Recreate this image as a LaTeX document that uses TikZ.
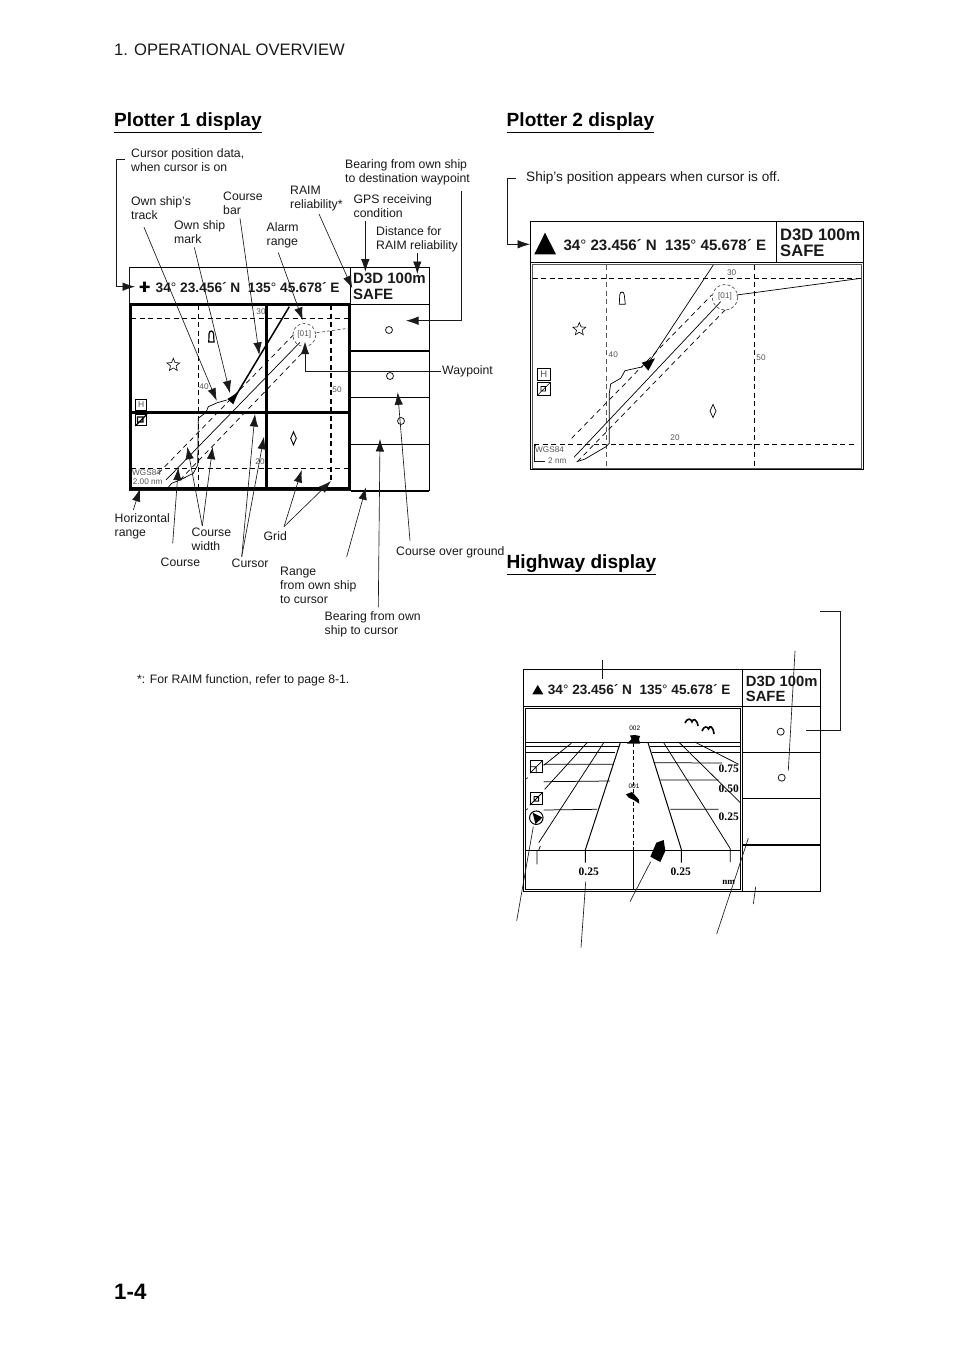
\documentclass[tikz,border=0pt]{standalone}
\usepackage{fontspec}
\setmainfont{Liberation Sans}
\newfontfamily\roadfont{Liberation Serif}
\usetikzlibrary{arrows.meta,shapes.geometric}
\definecolor{ink}{HTML}{1A1A1A}
\definecolor{soft}{HTML}{555555}
\newcommand{\posn}{34{\mdseries°} 23.456´ N\ \ 135{\mdseries°} 45.678´ E}
\tikzset{
 lbl/.style={anchor=west,inner sep=0pt,align=left,text=ink,font=\fontsize{12.25}{13.8}\selectfont},
 head/.style={anchor=west,inner sep=0pt,text=black,font=\fontsize{19.1}{23}\selectfont\bfseries},
 tinytxt/.style={inner sep=0pt,text=soft,font=\fontsize{8.2}{9}\selectfont},
 roadtxt/.style={inner sep=0pt,text=black,font=\fontsize{11.5}{12}\selectfont\bfseries\roadfont},
 posnfont/.style={anchor=west,inner sep=0pt,text=ink,font=\fontsize{#1}{#1}\selectfont\bfseries},
 framed/.style={draw=black,line width=1pt},
 thickbar/.style={draw=black,line width=2.6pt},
 call/.style={draw=ink,line width=.65pt,-{Latex[length=12.5pt,width=8.5pt]}},
 plainline/.style={draw=ink,line width=.65pt},
 gridline/.style={draw=black,line width=.8pt,dash pattern=on 5pt off 3.5pt},
 gridheavy/.style={draw=black,line width=1.5pt,dash pattern=on 5pt off 3.5pt},
 gridsoft/.style={draw=soft,line width=.9pt,dash pattern=on 5pt off 3.5pt},
 courseline/.style={draw=black,line width=.7pt},
 widthline/.style={draw=black,line width=.7pt,dash pattern=on 5pt off 4pt},
 alarmline/.style={draw=soft,line width=.7pt,dash pattern=on 3pt off 2.2pt},
 symb/.style={draw=black,line width=.7pt,fill=white},
 starsym/.style={star,star points=5,star point ratio=2.3,draw=black,line width=.6pt,inner sep=0pt,minimum size=13.5pt},
 wp/.style={circle,draw=ink,line width=.8pt,inner sep=0pt,minimum size=7pt},
 grline/.style={draw=black,line width=.75pt},
}
\begin{document}
\begin{tikzpicture}[x=1pt,y=-1pt]
\useasboundingbox (0,0) rectangle (954,1351);
\fill[white] (0,0) rectangle (954,1351);

% page furniture
\node[lbl,font=\fontsize{16.6}{20}\selectfont] (chapter) at (114,50) {1. OPERATIONAL OVERVIEW};
\node[head] (title1) at (114,123) {\underline{Plotter 1 display}};
\node[head] (title2) at (506.5,123) {\underline{Plotter 2 display}};
\node[head] (title3) at (506.5,565) {\underline{Highway display}};
\node[head,font=\fontsize{22.3}{26}\selectfont\bfseries] (pageno) at (114,1292) {1-4};
\node[lbl] (footnote) at (137,680) {*: For RAIM function, refer to page 8-1.};

% ---------- Plotter 1 ----------
\draw[framed] (129.3,267.3) rectangle (429.3,304.3);
\draw[framed] (350.7,267.3) -- (350.7,490.7);
\draw[framed] (429.3,304.3) -- (429.3,490.7);
\draw[plainline,line width=.9pt] (129.3,267.3) -- (129.3,490.7) -- (350,490.7);
\draw[thickbar,line width=1.6pt] (350.7,490.7) -- (429.3,490.7);
\draw[thickbar,line width=1.6pt] (350.7,350.7) -- (429.3,350.7);
\draw[framed] (350.7,397.3) -- (429.3,397.3);
\draw[framed] (350.7,444.3) -- (429.3,444.3);
\node[wp] (c1) at (389,330) {};
\node[wp] (c2) at (390,376) {};
\node[wp] (c3) at (401,421) {};
\node[posnfont=13.7] (pos1) at (155.5,287.5) {\posn};
\fill[black] (139.5,285.5) rectangle (149.5,288) (143.2,281.7) rectangle (145.8,291.8);
\node[anchor=north west,inner sep=0pt,align=left,text=ink,font=\fontsize{15}{16}\selectfont\bfseries] (st1) at (353,273) {D3D 100m\\SAFE};

% grid
\draw[gridline] (131,318.3) -- (349,318.3);
\draw[gridline] (131,468.3) -- (349,468.3);
\draw[gridline] (198.3,305) -- (198.3,488);
\draw[gridheavy] (331,305) -- (331,480);
\node[tinytxt] (l30a) at (261,312) {30};
\node[tinytxt] (l40a) at (204,387) {40};
\node[tinytxt] (l50a) at (337,390) {50};
\node[tinytxt] (l20a) at (260,462) {20};

% thick frame
\draw[thickbar] (130.7,304.6) rectangle (349.3,488.5);
\draw[thickbar] (266.7,304.6) -- (266.7,488.5);
\draw[thickbar] (130.7,412.3) -- (349.3,412.3);

% route
\draw[courseline] (166,480) -- (300,342.3);
\draw[widthline] (158.3,473.3) -- (293.3,335);
\draw[widthline] (180,480) -- (303.3,351.7);
\draw[thickbar,line width=1.5pt] (235,397) -- (289.3,306.7);
\draw[courseline] (226.7,400) -- (217.3,402.7) -- (208.3,406.7) -- (206,412.3) -- (198.3,418.3) -- (197.7,465) -- (193.3,473.3) -- (180,480) -- (171.7,483.3) -- (168.3,487.3);
\fill[black] (238.3,392.3) -- (227.3,399) -- (233.3,404.3) -- cycle;
\draw[alarmline] (304.3,335) circle (11.5);
\draw[alarmline] (316.7,332.7) -- (348.3,328.3);
\node[tinytxt,fill=white,inner sep=.3pt] (wp1) at (304.3,334) {[01]};

% symbols
\draw[symb,line width=1.2pt] (208.8,342) -- (209,334) .. controls (209.3,330) and (213.3,330) .. (213.6,334) -- (214,342) -- cycle;
\node[starsym] (s1) at (173.3,365) {};
\draw[symb,line width=.9pt] (293.5,431.8) -- (296.3,438.3) -- (293.5,444.8) -- (290.7,438.3) -- cycle;
\node[draw=black,line width=.7pt,minimum size=11pt,inner sep=0pt,font=\fontsize{8.5}{9}\selectfont,text=soft] (h1) at (141.2,405) {H};
\node[draw=black,line width=.8pt,minimum size=11pt,inner sep=0pt,fill=white] (m1) at (141.2,420) {};
\draw[black,line width=1.2pt] (m1.south west) -- (m1.north east) (137.5,422) rectangle (143,417);
\node[tinytxt,anchor=west] (wgs1) at (132,472.7) {WGS84};
\node[tinytxt,anchor=west] (nm1) at (132.7,482) {2.00 nm};

% plotter 1 labels
\node[lbl] (a1) at (131,160) {Cursor position data,\\when cursor is on};
\node[lbl] (a2) at (345,172.5) {Bearing from own ship\\to destination waypoint};
\node[lbl] (a3) at (131,208.5) {Own ship's\\track};
\node[lbl] (a4) at (223,203) {Course\\bar};
\node[lbl] (a5) at (174,232) {Own ship\\mark};
\node[lbl] (a6) at (290,198.5) {RAIM\\reliability*};
\node[lbl] (a7) at (353.5,206) {GPS receiving\\condition};
\node[lbl] (a8) at (266.5,235.5) {Alarm\\range};
\node[lbl] (a9) at (376,239) {Distance for\\RAIM reliability};
\node[lbl] (a10) at (442,371) {Waypoint};
\node[lbl] (a11) at (114.5,526.5) {Horizontal\\range};
\node[lbl] (a12) at (191.5,539) {Course\\width};
\node[lbl] (a13) at (263.5,536) {Grid};
\node[lbl] (a14) at (160.5,562) {Course};
\node[lbl] (a15) at (231.5,563) {Cursor};
\node[lbl] (a16) at (280,585.5) {Range\\from own ship\\to cursor};
\node[lbl] (a17) at (324.5,624) {Bearing from own\\ship to cursor};
\node[lbl] (a18) at (396,552.5) {Course over ground};

% plotter 1 connector ends
\path (125,159.3) coordinate (b1a) (116.7,159.3) coordinate (b1b) (116.7,286.7) coordinate (b1c) (135,286.7) coordinate (b1d);
\path (144,227.3) coordinate (b2a) (216.7,400.7) coordinate (b2b);
\path (194.3,247.3) coordinate (b3a) (230,393.3) coordinate (b3b);
\path (240,218.3) coordinate (b4a) (259.3,355) coordinate (b4b);
\path (319,214) coordinate (b5a) (352.3,288.3) coordinate (b5b);
\path (278.3,252.7) coordinate (b6a) (302.7,320) coordinate (b6b);
\path (365.3,221) coordinate (b7a) (365.3,271.7) coordinate (b7b);
\path (417.3,253.3) coordinate (b8a) (417.3,274) coordinate (b8b);
\path (461.7,190.7) coordinate (b9a) (461.7,320.7) coordinate (b9b) (406,320.7) coordinate (b9c);
\path (440.7,371.7) coordinate (b10a) (305,371.7) coordinate (b10b) (305,341.7) coordinate (b10c);
\path (133.3,510) coordinate (b11a) (140,489) coordinate (b11b);
\path (172.7,543.3) coordinate (b12a) (178.3,467.7) coordinate (b12b);
\path (202.3,526) coordinate (b13a) (187.3,446.7) coordinate (b13b) (212.7,446.7) coordinate (b13c);
\path (241.7,556.7) coordinate (b14a) (255,414) coordinate (b14b) (264,436.7) coordinate (b14c);
\path (284,526.7) coordinate (b15a) (301.7,470) coordinate (b15b) (331,481) coordinate (b15c);
\path (346.7,556.7) coordinate (b16a) (366,487.3) coordinate (b16b);
\path (378.3,607.3) coordinate (b17a) (380,439) coordinate (b17b);
\path (410,540.7) coordinate (b18a) (397.7,392.3) coordinate (b18b);
\draw[call] (b1a) -- (b1b) -- (b1c) -- (b1d);
\draw[call] (b2a) -- (b2b);
\draw[call] (b3a) -- (b3b);
\draw[call] (b4a) -- (b4b);
\draw[call] (b5a) -- (b5b);
\draw[call] (b6a) -- (b6b);
\draw[call] (b7a) -- (b7b);
\draw[call] (b8a) -- (b8b);
\draw[call] (b9a) -- (b9b) -- (b9c);
\draw[call] (b10a) -- (b10b) -- (b10c);
\draw[call] (b11a) -- (b11b);
\draw[call] (b12a) -- (b12b);
\draw[call] (b13a) -- (b13b);
\draw[call] (b13a) -- (b13c);
\draw[call] (b14a) -- (b14b);
\draw[call] (b14a) -- (b14c);
\draw[call] (b15a) -- (b15b);
\draw[call] (b15a) -- (b15c);
\draw[call] (b16a) -- (b16b);
\draw[call] (b17a) -- (b17b);
\draw[call] (b18a) -- (b18b);

% ---------- Plotter 2 ----------
\draw[framed] (530.7,221.7) rectangle (863.3,262.3);
\draw[framed] (776.7,221.7) -- (776.7,262.3);
\draw[framed] (530.7,262.3) -- (530.7,469.3) -- (863.3,469.3) -- (863.3,262.3);
\draw[draw=soft,line width=.8pt] (532.3,264.5) rectangle (861,468);
\fill[black] (545,232.7) -- (534.3,254.3) -- (556,254.3) -- cycle;
\node[posnfont=15.1] (pos2) at (563.3,245) {\posn};
\node[anchor=north west,inner sep=0pt,align=left,text=ink,font=\fontsize{16.6}{15.7}\selectfont\bfseries] (st2) at (780,229) {D3D 100m\\SAFE};
\draw[gridline] (532.5,278.3) -- (861,278.3);
\draw[gridline] (534,444.3) -- (857,444.3);
\draw[gridsoft] (606.7,265) -- (606.7,468);
\draw[gridline] (754.3,265) -- (754.3,468);
\node[tinytxt] (l30b) at (731.7,272.3) {30};
\node[tinytxt] (l40b) at (613.3,355) {40};
\node[tinytxt] (l50b) at (761,358) {50};
\node[tinytxt] (l20b) at (675,437.7) {20};
\draw[courseline] (574,457.3) -- (720.7,301.7);
\draw[widthline] (571.7,438.3) -- (711.7,295);
\draw[widthline] (577.3,461.7) -- (726.7,308.3);
\draw[courseline] (713.3,265) -- (648.3,363.3);
\draw[courseline] (643,366.7) -- (625,370.7) -- (620.7,378.3) -- (610.7,384) -- (609.3,393.3) -- (609.3,443.3) -- (606,446.7) -- (585,459) -- (576.7,461.7);
\fill[black] (655,358.3) -- (641.7,362.7) -- (648.3,370.7) -- cycle;
\draw[alarmline] (725,297.3) circle (12.8);
\draw[courseline] (736.7,295) -- (861,278.3);
\node[tinytxt,fill=white,inner sep=.3pt] (wp2) at (725,296) {[01]};
\draw[symb] (619.3,304.3) -- (619.7,295) .. controls (620,291) and (624,291) .. (624.3,295) -- (625.3,304.3) -- cycle;
\node[starsym] (s2) at (579.3,329.3) {};
\draw[symb,line width=.7pt] (713,404.5) -- (716,411) -- (713,417.5) -- (710,411) -- cycle;
\node[draw=black,line width=.7pt,minimum size=12.5pt,inner sep=0pt,font=\fontsize{9.5}{10}\selectfont,text=soft] (h2) at (543.7,374.3) {H};
\node[draw=black,line width=.7pt,minimum size=12.5pt,inner sep=0pt] (m2) at (543.7,389) {};
\draw[black,line width=.6pt] (m2.south west) -- (m2.north east) (541,391) rectangle (545.5,386.5);
\draw[plainline] (536,445) -- (534.3,445) -- (534.3,461.7) -- (545,461.7);
\node[tinytxt,anchor=west] (wgs2) at (535,449.5) {WGS84};
\node[tinytxt,anchor=west] (nm2) at (548,461) {2 nm};
\node[lbl,font=\fontsize{13.6}{15}\selectfont] (a20) at (526,177.5) {Ship's position appears when cursor is off.};
\path (516,178.3) coordinate (b20a) (507.3,178.3) coordinate (b20b) (507.3,244.3) coordinate (b20c) (530,244.3) coordinate (b20d);
\draw[call] (b20a) -- (b20b) -- (b20c) -- (b20d);

% ---------- Highway ----------
\draw[framed] (523.3,669.7) rectangle (820.7,706.7);
\draw[framed] (742.3,669.7) -- (742.3,891);
\draw[framed] (820.7,706.7) -- (820.7,891);
\draw[framed] (523.3,706.7) -- (523.3,891) -- (820.7,891);
\draw[framed] (742.3,752.3) -- (820.7,752.3);
\draw[framed] (742.3,798.3) -- (820.7,798.3);
\draw[thickbar,line width=1.5pt] (742.3,845) -- (820.7,845);
\draw[black,line width=.9pt] (525.3,708.3) rectangle (740.7,889.3);
\fill[black] (537.7,685) -- (532.3,694.3) -- (543.3,694.3) -- cycle;
\node[posnfont=13.6] (pos3) at (547.7,690) {\posn};
\node[anchor=north west,inner sep=0pt,align=left,text=ink,font=\fontsize{14.8}{15}\selectfont\bfseries] (st3) at (745.7,675.5) {D3D 100m\\SAFE};
\node[wp] (c4) at (780.7,731.7) {};
\node[wp] (c5) at (781.7,777.7) {};

% road scene
\draw[grline,line width=1.4pt] (525.3,742.7) -- (740.7,742.7);
\draw[grline] (525.3,746.7) -- (618.7,746.7) (650,746.7) -- (740.7,746.7);
\draw[grline,line width=1pt] (525.3,752.7) -- (615,752.7) (652,752.7) -- (740,752.7);
\draw[grline] (543.7,764.3) -- (613.7,764.3) (653.7,762.7) -- (722,763);
\draw[grline] (543.7,781.7) -- (610,781) (660.3,780) -- (718.7,780);
\draw[grline] (543.7,810) -- (597,809.3) (670.3,809.3) -- (718.7,809.3);
\draw[grline,line width=1pt] (525.3,850) -- (740.7,850);
\draw[grline,line width=1pt] (620.3,742.7) -- (585.3,850) -- (585.3,862.7);
\draw[grline,line width=1pt] (648,742.7) -- (681.3,849.3) -- (681.3,862.7);
\draw[grline] (603.7,742.7) -- (538.7,842.7);
\draw[grline] (587,742.7) -- (544.7,789.3);
\draw[grline] (571.3,743.3) -- (543.7,765.3);
\draw[grline] (540.3,846) -- (538.7,850) (537,851) -- (537,864.3);
\draw[grline] (663.7,742.7) -- (730.3,848.7) -- (730.3,862);
\draw[grline] (678.7,742) -- (740.7,803);
\draw[grline] (694.7,742) -- (738.7,764.3);
\draw[grline] (526.5,779) -- (527.5,777.5) (526.5,810) -- (527.5,808.5);
\draw[grline,dash pattern=on 4pt off 2.5pt] (633.7,743) -- (633.7,850);
\draw[grline] (633.7,850) -- (633.7,889);
\fill[black] (663.7,840) -- (665.3,851) -- (660.3,862) -- (650.3,856.7) -- (656.3,842.7) -- cycle;
\fill[black] (627,743.5) -- (640,743.5) -- (639,739) -- (640,736) -- (635,735) -- (630,735.5) -- (631.5,739) -- cycle;
\fill[black] (626,794.3) -- (632,792) -- (638.7,799.3) -- (639.3,803.7) -- (633.7,800) -- (628.7,797.7) -- cycle;
\node[tinytxt,text=black,font=\fontsize{6.5}{7}\selectfont] (n2) at (634.7,728.7) {002};
\node[tinytxt,text=black,font=\fontsize{6.5}{7}\selectfont] (n1) at (634,786.7) {001};
\node[roadtxt] (r75) at (728.7,768.7) {0.75};
\node[roadtxt] (r50) at (728.7,788.7) {0.50};
\node[roadtxt] (r25) at (728.7,816.7) {0.25};
\node[roadtxt] (r25l) at (588.7,872) {0.25};
\node[roadtxt] (r25r) at (680.7,871.7) {0.25};
\node[roadtxt,font=\fontsize{9}{10}\selectfont\bfseries\roadfont] (rnm) at (728.7,882) {nm};
\draw[black,line width=1.6pt] (685,723) .. controls (688,717) and (691,719) .. (692,722) .. controls (693,718) and (697,719) .. (698,726);
\draw[black,line width=1.6pt] (702,731) .. controls (704,726) and (707,726) .. (708.5,729) .. controls (709.5,725) and (713,726) .. (714,734);
\node[draw=black,line width=1pt,minimum size=12pt,inner sep=0pt,fill=white] (i1) at (536.3,766.7) {};
\draw[black,line width=.7pt] (i1.south west) -- (i1.north east) (i1.west) -- (i1.center) -- (i1.south);
\node[draw=black,line width=1pt,minimum size=12pt,inner sep=0pt,fill=white] (i2) at (536.3,798.7) {};
\draw[black,line width=1pt] (i2.south west) -- (i2.north east) (534,801) rectangle (538.5,796.5);
\node[circle,draw=black,line width=1pt,minimum size=13.5pt,inner sep=0pt,fill=white] (i3) at (536.3,817.7) {};
\fill[black] (532.5,812.5) -- (542.5,817.5) -- (535.5,824) -- cycle;

% highway connector stubs
\path (602.3,660) coordinate (h1a) (602.3,679.3) coordinate (h1b);
\path (820,611) coordinate (h2a) (840,611) coordinate (h2b) (840,730) coordinate (h2c) (806,730) coordinate (h2d);
\path (795,651) coordinate (h3a) (788.3,770.7) coordinate (h3b);
\path (516.7,920.7) coordinate (h4a) (533.3,826.7) coordinate (h4b);
\path (581,947.7) coordinate (h5a) (585.7,881.7) coordinate (h5b);
\path (630,901.7) coordinate (h6a) (650.7,861.7) coordinate (h6b);
\path (716.7,934) coordinate (h7a) (748.3,838.3) coordinate (h7b);
\path (753.3,904) coordinate (h8a) (755.7,886.7) coordinate (h8b);
\draw[plainline] (h1a) -- (h1b);
\draw[plainline] (h2a) -- (h2b) -- (h2c) -- (h2d);
\draw[plainline] (h3a) -- (h3b);
\draw[plainline] (h4a) -- (h4b);
\draw[plainline] (h5a) -- (h5b);
\draw[plainline] (h6a) -- (h6b);
\draw[plainline] (h7a) -- (h7b);
\draw[plainline] (h8a) -- (h8b);
\end{tikzpicture}
\end{document}
